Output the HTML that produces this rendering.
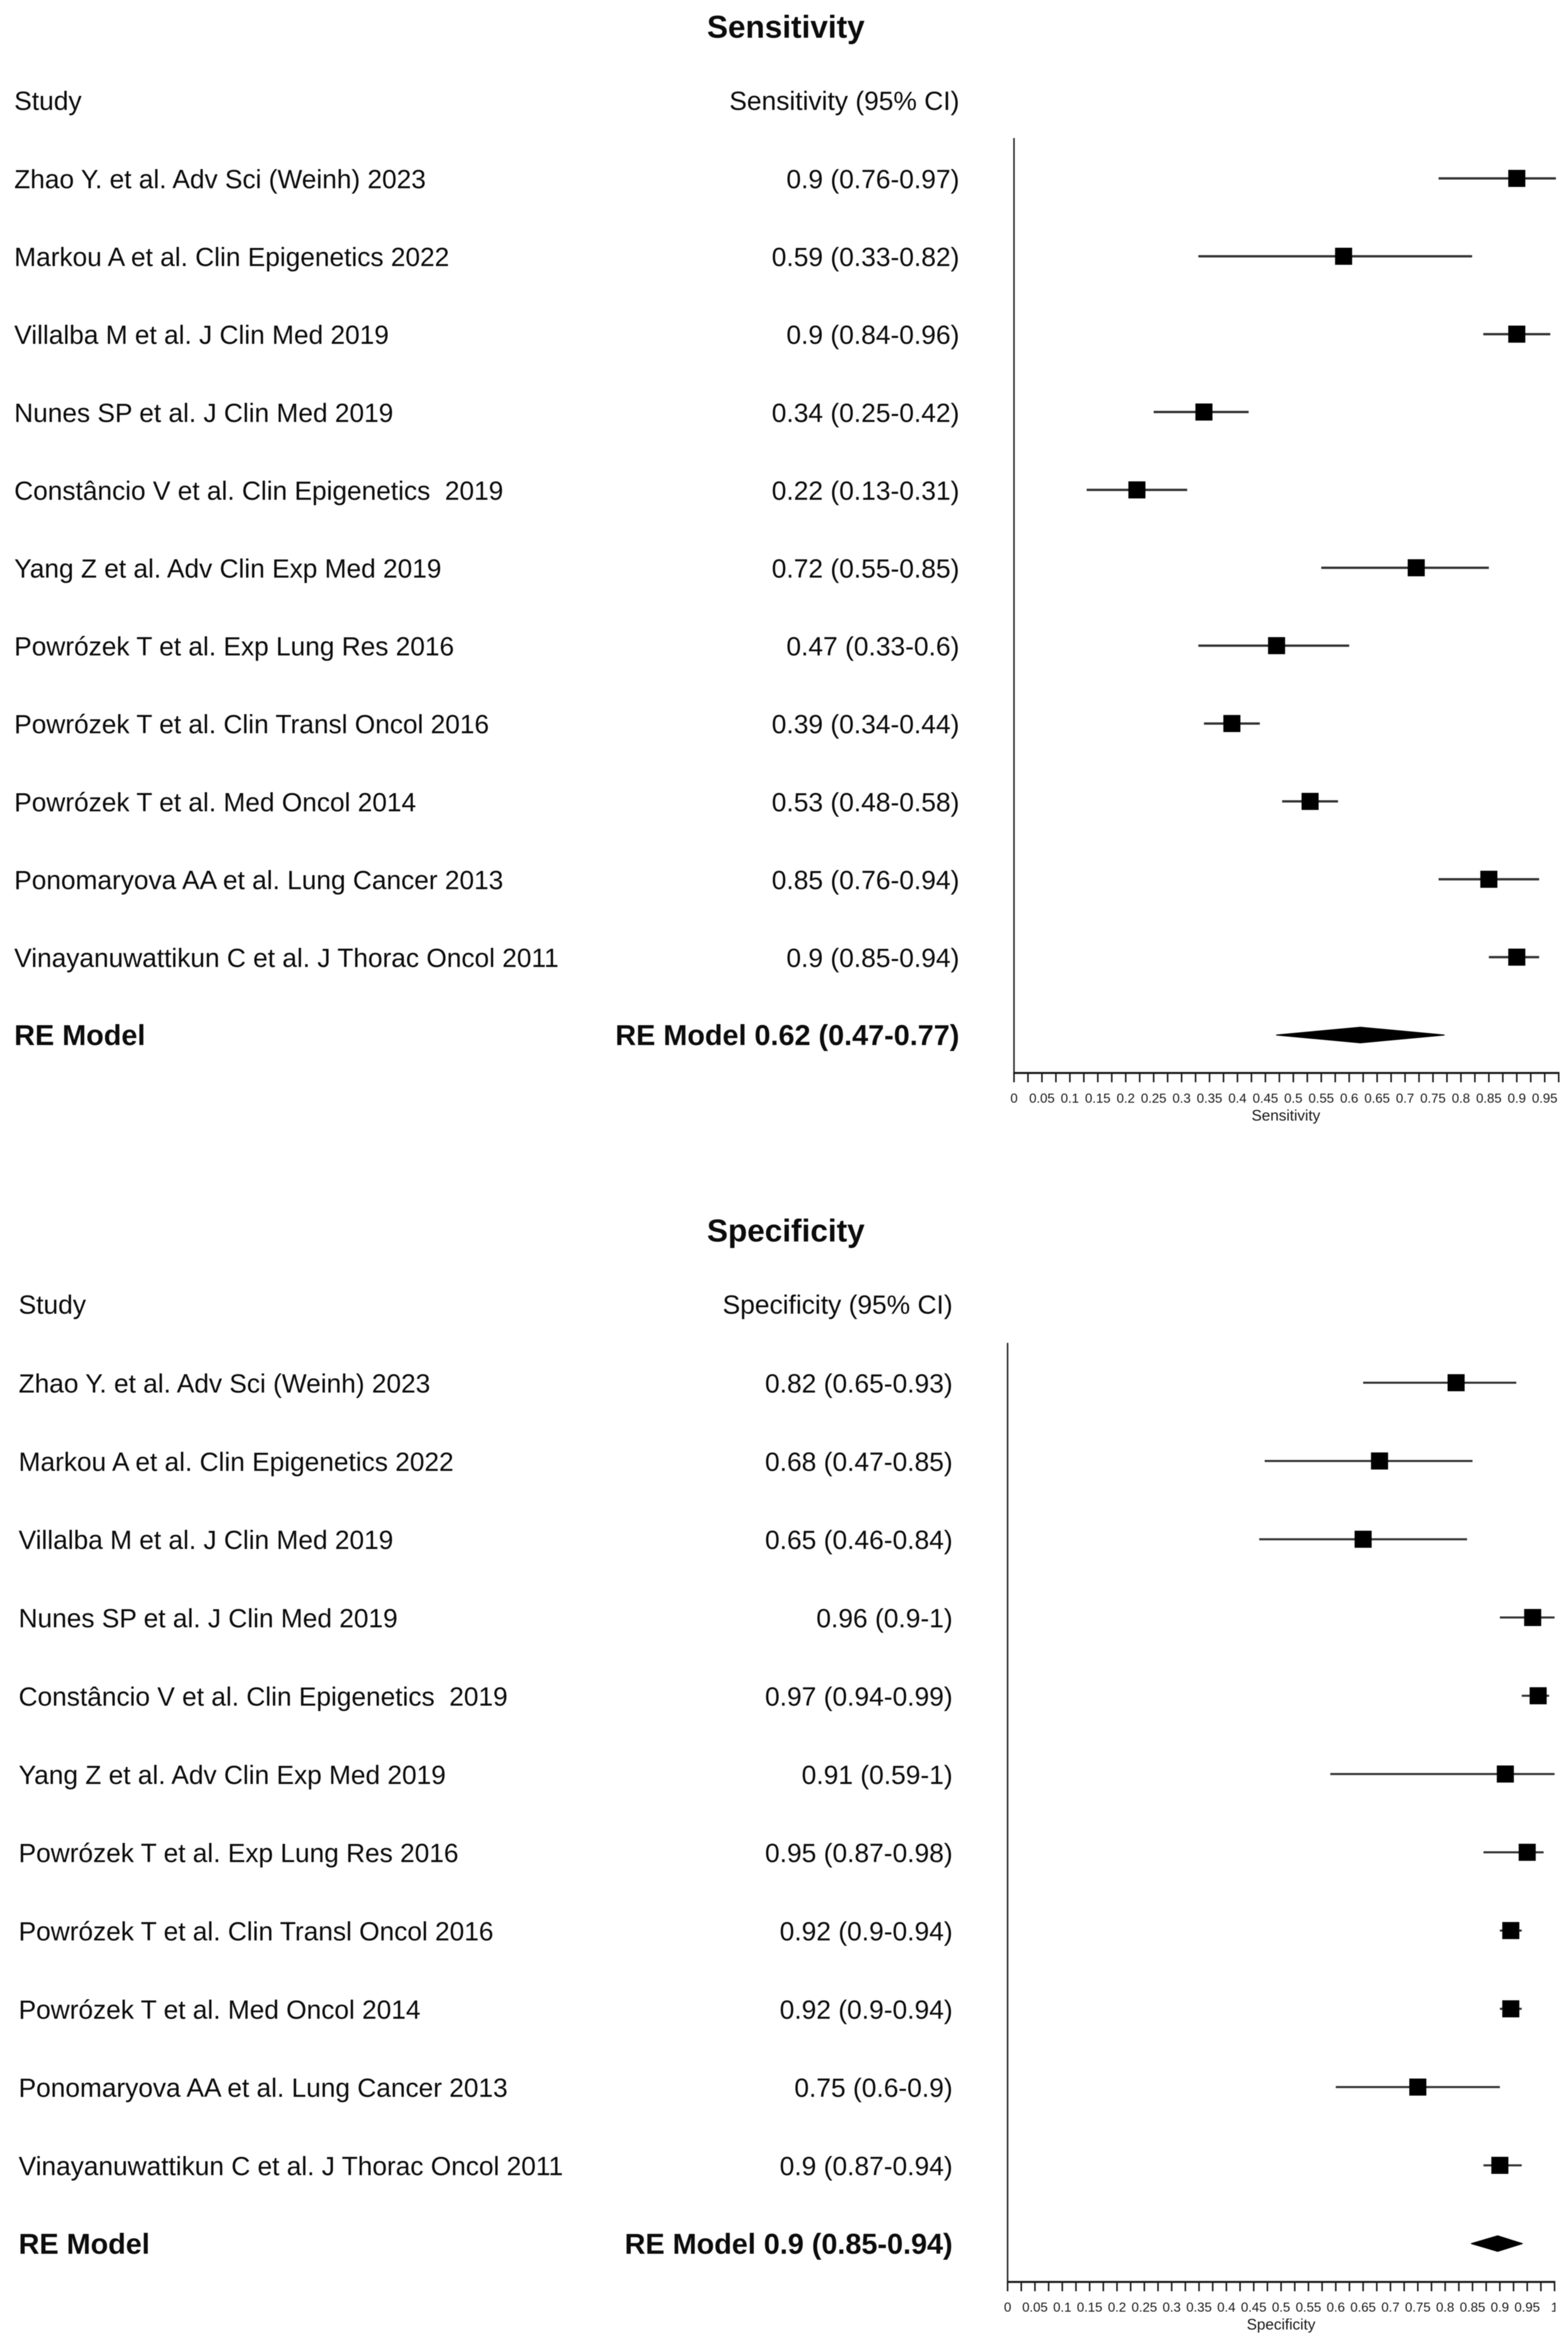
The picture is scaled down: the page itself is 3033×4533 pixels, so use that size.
<!DOCTYPE html>
<html lang="en">
<head>
<meta charset="utf-8">
<title>Sensitivity and Specificity Forest Plots</title>
<style>
  html, body { margin: 0; padding: 0; background: #fff; }
  body { width: 3033px; height: 4533px; overflow: hidden; }
  svg { display: block; filter: blur(0.7px); font-family: "Liberation Sans", Arial, Helvetica, sans-serif; }
  text { white-space: pre; }
</style>
</head>
<body>
<svg id="chart" xmlns="http://www.w3.org/2000/svg" width="3033" height="4533" viewBox="0 0 3033 4533">
  <rect x="0" y="0" width="3033" height="4533" fill="#ffffff"></rect>
</svg>
<script>
// Shared study labels
const studies = [
  "Zhao Y. et al. Adv Sci (Weinh) 2023",
  "Markou A et al. Clin Epigenetics 2022",
  "Villalba M et al. J Clin Med 2019",
  "Nunes SP et al. J Clin Med 2019",
  "Constâncio V et al. Clin Epigenetics  2019",
  "Yang Z et al. Adv Clin Exp Med 2019",
  "Powrózek T et al. Exp Lung Res 2016",
  "Powrózek T et al. Clin Transl Oncol 2016",
  "Powrózek T et al. Med Oncol 2014",
  "Ponomaryova AA et al. Lung Cancer 2013",
  "Vinayanuwattikun C et al. J Thorac Oncol 2011"
];

// Sensitivity panel data
const sensEstimates = [0.9, 0.59, 0.9, 0.34, 0.22, 0.72, 0.47, 0.39, 0.53, 0.85, 0.9];
const sensLower = [0.76, 0.33, 0.84, 0.25, 0.13, 0.55, 0.33, 0.34, 0.48, 0.76, 0.85];
const sensUpper = [0.97, 0.82, 0.96, 0.42, 0.31, 0.85, 0.6, 0.44, 0.58, 0.94, 0.94];
const sensPrinted = ["0.9 (0.76-0.97)", "0.59 (0.33-0.82)", "0.9 (0.84-0.96)", "0.34 (0.25-0.42)", "0.22 (0.13-0.31)", "0.72 (0.55-0.85)", "0.47 (0.33-0.6)", "0.39 (0.34-0.44)", "0.53 (0.48-0.58)", "0.85 (0.76-0.94)", "0.9 (0.85-0.94)"];
const sensSummary = [0.47, 0.62, 0.77];
const sensSummaryPrinted = "RE Model 0.62 (0.47-0.77)";
const sensTickLabels = ["0","0.05","0.1","0.15","0.2","0.25","0.3","0.35","0.4","0.45","0.5","0.55","0.6","0.65","0.7","0.75","0.8","0.85","0.9","0.95"];

// Specificity panel data
const specEstimates = [0.82, 0.68, 0.65, 0.96, 0.97, 0.91, 0.95, 0.92, 0.92, 0.75, 0.9];
const specLower = [0.65, 0.47, 0.46, 0.9, 0.94, 0.59, 0.87, 0.9, 0.9, 0.6, 0.87];
const specUpper = [0.93, 0.85, 0.84, 1, 0.99, 1, 0.98, 0.94, 0.94, 0.9, 0.94];
const specPrinted = ["0.82 (0.65-0.93)", "0.68 (0.47-0.85)", "0.65 (0.46-0.84)", "0.96 (0.9-1)", "0.97 (0.94-0.99)", "0.91 (0.59-1)", "0.95 (0.87-0.98)", "0.92 (0.9-0.94)", "0.92 (0.9-0.94)", "0.75 (0.6-0.9)", "0.9 (0.87-0.94)"];
const specSummary = [0.848, 0.896, 0.941];
const specSummaryPrinted = "RE Model 0.9 (0.85-0.94)";
const specTickLabels = ["0","0.05","0.1","0.15","0.2","0.25","0.3","0.35","0.4","0.45","0.5","0.55","0.6","0.65","0.7","0.75","0.8","0.85","0.9","0.95","1"];

const NS = "http://www.w3.org/2000/svg";
const svg = document.getElementById("chart");

function add(tag, props, text) {
  const el = document.createElementNS(NS, tag);
  for (const k in props) el.setAttribute(k, props[k]);
  if (text !== undefined) el.textContent = text;
  svg.appendChild(el);
  return el;
}

function drawPanel(p) {
  const xScale = v => p.x0 + p.xUnit * v;
  const rowY = i => p.y0 + p.rowStep * i;
  const ink = "#0c0c0c";

  const title = add("text", {x: 1520, y: p.titleBase, "text-anchor": "middle", "font-size": 61, "font-weight": "bold", fill: ink}, p.title);
  
  

  const studyHead = add("text", {x: p.leftX, y: rowY(-1) + 18, "font-size": 51, fill: ink}, "Study");
  
  

  const valueHead = add("text", {x: p.rightX, y: rowY(-1) + 18, "text-anchor": "end", "font-size": 51, fill: ink}, p.title + " (95% CI)");
  
  

  const yLine = add("line", {x1: p.x0, x2: p.x0, y1: p.lineTop, y2: p.axisY, stroke: "#2a2a2a", "stroke-width": 3});
  
  

  studies.forEach((s, i) => {
    const y = rowY(i);
    const label = add("text", {x: p.leftX, y: y + 19, "font-size": 50.8, fill: ink}, s);
    
    

    const val = add("text", {x: p.rightX, y: y + 19, "text-anchor": "end", "font-size": 51, fill: ink}, p.printed[i]);
    
    

    const ci = add("line", {x1: xScale(p.lower[i]), x2: xScale(p.upper[i]), y1: y, y2: y, stroke: "#333333", "stroke-width": p.ciWidth});
    
    

    const box = add("rect", {x: xScale(p.est[i]) - 16.5, y: y - 16.5, width: 33, height: 33, fill: "#000000"});
    
    
  });

  const reY = rowY(11);
  const reLabel = add("text", {x: p.leftX, y: reY + 19.5, "font-size": 55.7, "font-weight": "bold", fill: ink}, "RE Model");
  
  

  const reVal = add("text", {x: p.rightX, y: reY + 19.5, "text-anchor": "end", "font-size": 55.7, "font-weight": "bold", fill: ink}, p.summaryPrinted);
  
  

  const pts = [
    [xScale(p.summary[0]), reY],
    [xScale(p.summary[1]), reY - 15],
    [xScale(p.summary[2]), reY],
    [xScale(p.summary[1]), reY + 15]
  ].map(a => a.join(",")).join(" ");
  const diamond = add("polygon", {points: pts, fill: "#000000", stroke: "#000000", "stroke-width": 2, "stroke-linejoin": "round"});
  
  

  // x axis
  const axis = add("line", {x1: p.x0 - 1.5, x2: xScale(p.axisMax) + 1.5, y1: p.axisY, y2: p.axisY, stroke: "#1a1a1a", "stroke-width": 4});
  
  

  const tickCount = Math.round(p.axisMax / 0.025);
  for (let t = 0; t <= tickCount; t++) {
    const tx = xScale(t * 0.025);
    const tick = add("line", {x1: tx, x2: tx, y1: p.axisY, y2: p.axisY + 18, stroke: "#1a1a1a", "stroke-width": 3});
    
    
  }
  p.tickLabels.forEach(l => {
    const tl = add("text", {x: xScale(parseFloat(l)), y: p.axisY + 57.5, "text-anchor": "middle", "font-size": 25.4, fill: "#1a1a1a"}, l);
    
    
  });

  const axTitle = add("text", {x: p.axisTitleX, y: p.axisY + 92, "text-anchor": "middle", "font-size": 29.5, fill: "#1a1a1a"}, p.title);
  
  
}

drawPanel({
  title: "Sensitivity", titleBase: 73,
  x0: 1961.4, xUnit: 1080.6, y0: 345, rowStep: 150.6,
  leftX: 27.5, rightX: 1855.7, lineTop: 267, axisY: 2075, axisMax: 0.975,
  axisTitleX: 2487.4, ciWidth: 4.5,
  est: sensEstimates, lower: sensLower, upper: sensUpper, printed: sensPrinted,
  summary: sensSummary, summaryPrinted: sensSummaryPrinted, tickLabels: sensTickLabels
});

drawPanel({
  title: "Specificity", titleBase: 2401,
  x0: 1949, xUnit: 1058, y0: 2674, rowStep: 151.35,
  leftX: 36, rightX: 1842.7, lineTop: 2597, axisY: 4413, axisMax: 1,
  axisTitleX: 2478, ciWidth: 4,
  est: specEstimates, lower: specLower, upper: specUpper, printed: specPrinted,
  summary: specSummary, summaryPrinted: specSummaryPrinted, tickLabels: specTickLabels
});

// The reference image is cropped just past the last tick of the lower axis
const crop = add("rect", {x: 3008.5, y: 4395, width: 25, height: 138, fill: "#ffffff"});


</script>
</body>
</html>
